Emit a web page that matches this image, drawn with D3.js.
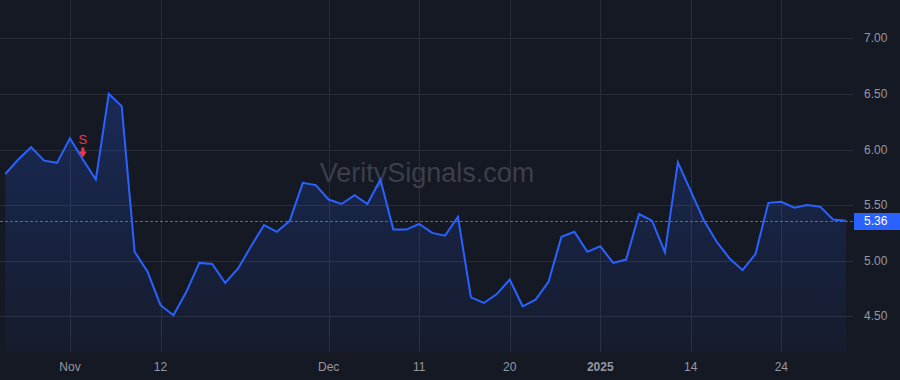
<!DOCTYPE html>
<html>
<head>
<meta charset="utf-8">
<script src="https://cdn.jsdelivr.net/npm/d3@7"></script>
<style>
  html, body { margin: 0; padding: 0; background: #151924; overflow: hidden; }
  #chart text { font-family: "Liberation Sans", Arial, sans-serif; }
</style>
</head>
<body>
<div id="chart"></div>
<script>
// trading days shown on the chart
var dates = [
    "2024-10-25", "2024-10-28", "2024-10-29", "2024-10-30", "2024-10-31",
    "2024-11-01", "2024-11-04", "2024-11-05", "2024-11-06", "2024-11-07", "2024-11-08",
    "2024-11-11", "2024-11-12", "2024-11-13", "2024-11-14", "2024-11-15",
    "2024-11-18", "2024-11-19", "2024-11-20", "2024-11-21", "2024-11-22",
    "2024-11-25", "2024-11-26", "2024-11-27", "2024-11-29",
    "2024-12-02", "2024-12-03", "2024-12-04", "2024-12-05", "2024-12-06",
    "2024-12-09", "2024-12-10", "2024-12-11", "2024-12-12", "2024-12-13",
    "2024-12-16", "2024-12-17", "2024-12-18", "2024-12-19", "2024-12-20",
    "2024-12-23", "2024-12-24", "2024-12-26", "2024-12-27", "2024-12-30", "2024-12-31",
    "2025-01-02", "2025-01-03", "2025-01-06", "2025-01-07", "2025-01-08", "2025-01-10",
    "2025-01-13", "2025-01-14", "2025-01-15", "2025-01-16", "2025-01-17",
    "2025-01-21", "2025-01-22", "2025-01-23", "2025-01-24",
    "2025-01-27", "2025-01-28", "2025-01-29", "2025-01-30", "2025-01-31"
];

// closing values
var values = [
    5.78, 5.91, 6.02, 5.90, 5.88,
    6.10, 5.91, 5.73, 6.50, 6.39, 5.08,
    4.90, 4.60, 4.51, 4.72, 4.98,
    4.97, 4.80, 4.93, 5.13, 5.32,
    5.26, 5.36, 5.70, 5.68,
    5.55, 5.51, 5.59, 5.51, 5.73,
    5.28, 5.28, 5.33, 5.25, 5.225,
    5.395, 4.67, 4.62, 4.70, 4.83,
    4.59, 4.65, 4.81, 5.215, 5.26, 5.08,
    5.13, 4.98, 5.01, 5.42, 5.36, 5.075,
    5.885, 5.625, 5.366, 5.17, 5.02,
    4.915, 5.06, 5.52, 5.53,
    5.477, 5.50, 5.486, 5.37, 5.36
];

// x axis ticks
var tickDates = ["2024-11-01", "2024-11-12", "2024-12-02", "2024-12-11", "2024-12-20", "2025-01-02", "2025-01-14", "2025-01-24"];
var tickLabels = ["Nov", "12", "Dec", "11", "20", "2025", "14", "24"];

// y axis ticks
var yTicks = [4.5, 5.0, 5.5, 6.0, 6.5, 7.0];

// signal markers
var signalDates = ["2024-11-04"];
var signalLabels = ["S"];

var lastValue = 5.36;

var svgWidth = 900;
var svgHeight = 380;
var plotRight = 853;
var plotBottom = 352;

var svg = d3.select("#chart")
    .append("svg")
    .attr("width", svgWidth)
    .attr("height", svgHeight);

svg.append("rect")
    .attr("width", svgWidth)
    .attr("height", svgHeight)
    .attr("fill", "#151924");

// scales
var xScale = d3.scalePoint()
    .domain(dates)
    .range([5.3, 846]);

var yScale = d3.scaleLinear()
    .domain([4.5, 7])
    .range([316.3, 38.3]);

var data = dates.map((d, i) => ({ date: d, value: values[i] }));

// gradient for area
var defs = svg.append("defs");
var grad = defs.append("linearGradient")
    .attr("id", "areaGrad")
    .attr("gradientUnits", "userSpaceOnUse")
    .attr("x1", 0).attr("x2", 0)
    .attr("y1", yScale(6.6)).attr("y2", plotBottom);
grad.append("stop").attr("offset", "0%").attr("stop-color", "#2962ff").attr("stop-opacity", 0.24);
grad.append("stop").attr("offset", "100%").attr("stop-color", "#2962ff").attr("stop-opacity", 0.04);

// grid lines
svg.append("g")
    .selectAll("line")
    .data(yTicks)
    .enter()
    .append("line")
    .attr("x1", 0)
    .attr("x2", plotRight)
    .attr("y1", d => Math.round(yScale(d)) + 0.5)
    .attr("y2", d => Math.round(yScale(d)) + 0.5)
    .attr("stroke", "#2a2e39")
    .attr("stroke-width", 1);

svg.append("g")
    .selectAll("line")
    .data(tickDates)
    .enter()
    .append("line")
    .attr("x1", d => Math.round(xScale(d)) + 0.5)
    .attr("x2", d => Math.round(xScale(d)) + 0.5)
    .attr("y1", 0)
    .attr("y2", plotBottom)
    .attr("stroke", "#2a2e39")
    .attr("stroke-width", 1);

// watermark
svg.append("text")
    .attr("x", 427)
    .attr("y", 182)
    .attr("text-anchor", "middle")
    .attr("font-size", "27px")
    .attr("fill", "#3b3f4b")
    .text("VeritySignals.com");

// area and line
var area = d3.area()
    .x(d => xScale(d.date))
    .y0(plotBottom)
    .y1(d => yScale(d.value));

svg.append("path")
    .datum(data)
    .attr("d", area)
    .attr("fill", "url(#areaGrad)");

var line = d3.line()
    .x(d => xScale(d.date))
    .y(d => yScale(d.value));

// last value dashed line
svg.append("line")
    .attr("x1", 0)
    .attr("x2", plotRight)
    .attr("y1", Math.round(yScale(lastValue)) + 0.5)
    .attr("y2", Math.round(yScale(lastValue)) + 0.5)
    .attr("stroke", "#2f6bff")
    .attr("stroke-width", 1)
    .attr("stroke-dasharray", "3,2");

svg.append("path")
    .datum(data)
    .attr("d", line)
    .attr("fill", "none")
    .attr("stroke", "#2962ff")
    .attr("stroke-width", 2)
    .attr("stroke-linejoin", "miter");

// signal markers
signalDates.forEach(function(sd, i) {
    var idx = dates.indexOf(sd);
    var sx = xScale(sd);
    var tip = yScale(values[idx]) - 2;
    var g = svg.append("g").attr("fill", "#f23645");
    g.append("path")
        .attr("d", `M${sx - 1.5},${tip - 10} L${sx + 1.5},${tip - 10} L${sx + 1.5},${tip - 6} L${sx + 4},${tip - 6} L${sx},${tip} L${sx - 4},${tip - 6} L${sx - 1.5},${tip - 6} Z`);
    g.append("text")
        .attr("x", sx)
        .attr("y", tip - 14)
        .attr("text-anchor", "middle")
        .attr("font-size", "13px")
        .text(signalLabels[i]);
});

// y axis labels
svg.append("g")
    .selectAll("text")
    .data(yTicks)
    .enter()
    .append("text")
    .attr("x", 864)
    .attr("y", d => yScale(d) + 4)
    .attr("font-size", "12px")
    .attr("fill", "#9598a1")
    .text(d => d3.format(".2f")(d));

// last value label
svg.append("rect")
    .attr("x", 854)
    .attr("y", Math.round(yScale(lastValue)) - 8)
    .attr("width", 46)
    .attr("height", 17)
    .attr("fill", "#2962ff");

svg.append("text")
    .attr("x", 864)
    .attr("y", yScale(lastValue) + 4.5)
    .attr("font-size", "12px")
    .attr("fill", "#ffffff")
    .text(d3.format(".2f")(lastValue));

// x axis labels
svg.append("g")
    .selectAll("text")
    .data(tickDates)
    .enter()
    .append("text")
    .attr("x", d => xScale(d))
    .attr("y", 371)
    .attr("text-anchor", "middle")
    .attr("font-size", "12px")
    .attr("font-weight", (d, i) => tickLabels[i] === "2025" ? "bold" : "normal")
    .attr("fill", "#9598a1")
    .text((d, i) => tickLabels[i]);
</script>
</body>
</html>
